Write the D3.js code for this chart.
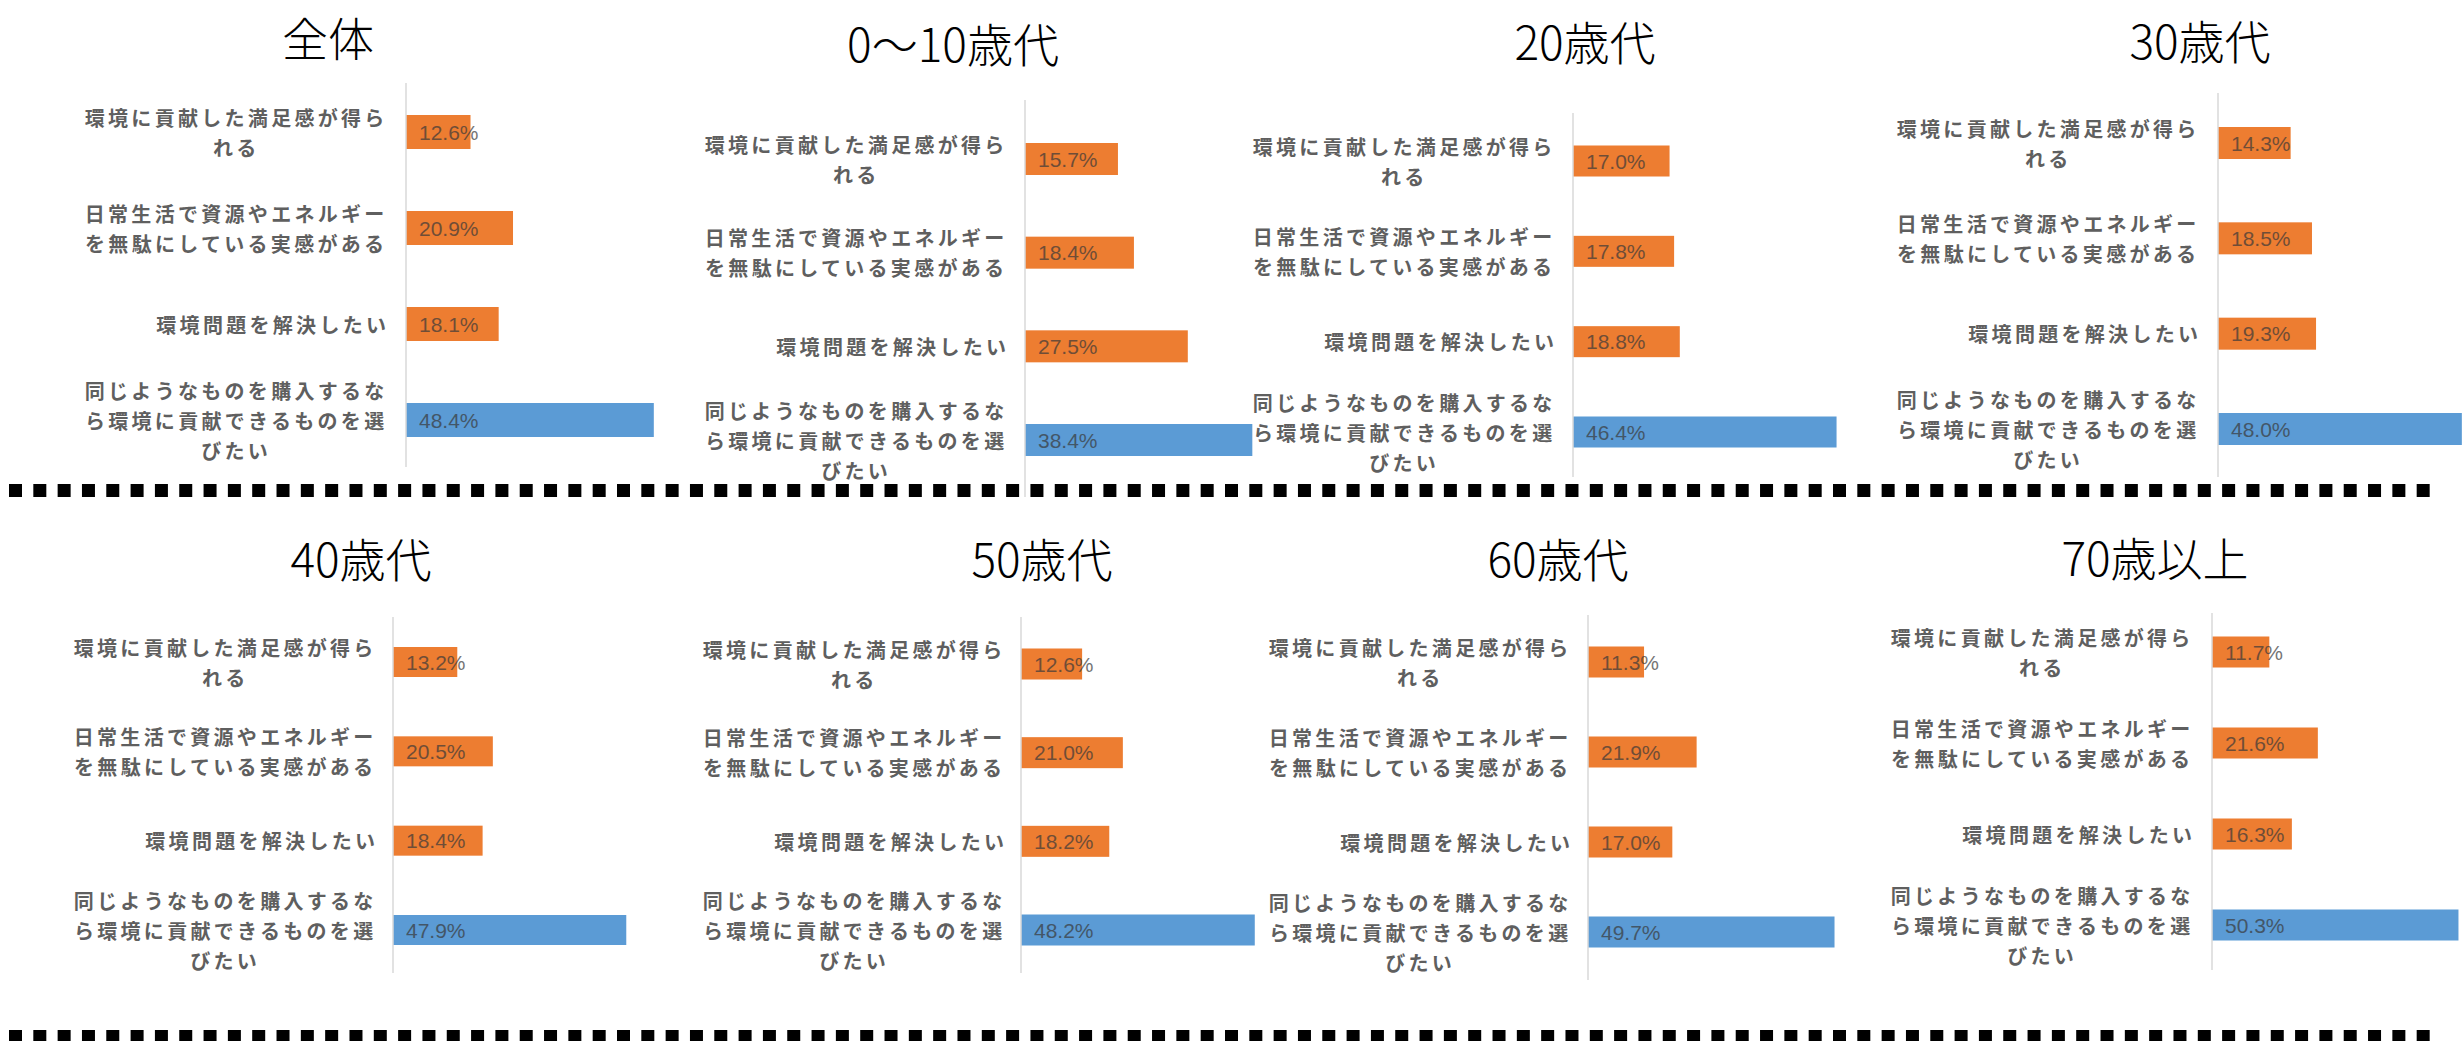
<!DOCTYPE html>
<html>
<head>
<meta charset="utf-8">
<script src="https://cdn.jsdelivr.net/npm/d3@7"></script>
<style>
  body { margin: 0; background: #fff; }
  svg { display: block; }
</style>
</head>
<body>
<script>
// data

var groups = ['全体', '0～10歳代', '20歳代', '30歳代', '40歳代', '50歳代', '60歳代', '70歳以上']

var categories = [
  ['環境に貢献した満足感が得ら', 'れる'],
  ['日常生活で資源やエネルギー', 'を無駄にしている実感がある'],
  ['環境問題を解決したい'],
  ['同じようなものを購入するな', 'ら環境に貢献できるものを選', 'びたい']
]

var satisfied = [12.6, 15.7, 17.0, 14.3, 13.2, 12.6, 11.3, 11.7]
var wasteful  = [20.9, 18.4, 17.8, 18.5, 20.5, 21.0, 21.9, 21.6]
var solve     = [18.1, 27.5, 18.8, 19.3, 18.4, 18.2, 17.0, 16.3]
var choose    = [48.4, 38.4, 46.4, 48.0, 47.9, 48.2, 49.7, 50.3]

var series = [satisfied, wasteful, solve, choose]
var barColors = ['#ED7D31', '#ED7D31', '#ED7D31', '#5B9BD5']

// where each small chart sits on the page
// tx/ty title centre, ax axis x, ay0/ay1 axis ends, c0/c3 first/last bar centre,
// bh bar height, ppp pixels per percent, lr right edge of the labels
var layout = [
  {tx: 328,  ty: 36,  ax: 406,  ay0: 83,  ay1: 467, c0: 132, c3: 420, bh: 34, ppp: 5.12, lr: 386},
  {tx: 953,  ty: 42,  ax: 1025, ay0: 100, ay1: 497, c0: 159, c3: 440, bh: 32, ppp: 5.92, lr: 1006},
  {tx: 1585, ty: 40,  ax: 1573, ay0: 113, ay1: 477, c0: 161, c3: 432, bh: 31, ppp: 5.68, lr: 1554},
  {tx: 2200, ty: 39,  ax: 2218, ay0: 93,  ay1: 477, c0: 143, c3: 429, bh: 32, ppp: 5.08, lr: 2198},
  {tx: 361,  ty: 557, ax: 393,  ay0: 617, ay1: 973, c0: 662, c3: 930, bh: 30, ppp: 4.87, lr: 375},
  {tx: 1042, ty: 557, ax: 1021, ay0: 617, ay1: 973, c0: 664, c3: 930, bh: 31, ppp: 4.85, lr: 1004},
  {tx: 1558, ty: 557, ax: 1588, ay0: 615, ay1: 980, c0: 662, c3: 932, bh: 31, ppp: 4.96, lr: 1570},
  {tx: 2155, ty: 556, ax: 2212, ay0: 613, ay1: 970, c0: 652, c3: 925, bh: 31, ppp: 4.9,  lr: 2192}
]

var width = 2463
var height = 1041

var labelSize = 20
var labelSpacing = 3.3
var lineGap = 30

var svg = d3.select('body').append('svg')
  .attr('width', width)
  .attr('height', height)

svg.append('rect')
  .attr('width', width)
  .attr('height', height)
  .attr('fill', '#fff')

groups.forEach(function(name, gi) {
  var L = layout[gi]
  var g = svg.append('g').attr('class', 'panel')

  var x = d3.scaleLinear()
    .domain([0, 100])
    .range([L.ax, L.ax + 100 * L.ppp])

  var y = d3.scalePoint()
    .domain(d3.range(categories.length))
    .range([L.c0, L.c3])

  // title
  g.append('text')
    .attr('x', L.tx)
    .attr('y', L.ty)
    .attr('text-anchor', 'middle')
    .attr('dominant-baseline', 'central')
    .style('font-family', '"Noto Sans CJK JP", sans-serif')
    .style('font-weight', 300)
    .style('font-size', '46px')
    .style('fill', '#000')
    .text(name)

  // bars
  g.selectAll('.bar')
    .data(series.map(function(s, i) { return {i: i, v: s[gi]} }))
    .enter().append('rect')
    .attr('class', 'bar')
    .attr('x', x(0))
    .attr('y', function(d) { return y(d.i) - L.bh / 2 })
    .attr('width', function(d) { return x(d.v) - x(0) })
    .attr('height', L.bh)
    .attr('fill', function(d) { return barColors[d.i] })

  // value labels
  g.selectAll('.val')
    .data(series.map(function(s, i) { return {i: i, v: s[gi]} }))
    .enter().append('text')
    .attr('class', 'val')
    .attr('x', x(0) + 13)
    .attr('y', function(d) { return y(d.i) })
    .attr('dominant-baseline', 'central')
    .style('font-family', '"Liberation Sans", Arial, sans-serif')
    .style('font-size', '21px')
    .style('fill', '#3a3a3a')
    .style('opacity', 0.7)
    .text(function(d) { return d.v.toFixed(1) + '%' })

  // axis line
  g.append('line')
    .attr('x1', L.ax).attr('x2', L.ax)
    .attr('y1', L.ay0).attr('y2', L.ay1)
    .style('stroke', '#d9d9d9')
    .style('stroke-width', 1.5)

  // category labels, centred as a block against the axis
  var blockW = 13 * (labelSize + labelSpacing)
  categories.forEach(function(lines, ci) {
    var t = g.append('text')
      .style('font-family', '"Noto Sans CJK JP", sans-serif')
      .style('font-weight', 700)
      .style('font-size', labelSize + 'px')
      .style('letter-spacing', labelSpacing + 'px')
      .style('fill', '#5f5f5f')
    lines.forEach(function(line, li) {
      var single = lines.length === 1
      t.append('tspan')
        .attr('x', single ? L.lr + labelSpacing : L.lr - blockW / 2 + labelSpacing / 2)
        .attr('y', y(ci) + (li - (lines.length - 1) / 2) * lineGap)
        .attr('text-anchor', single ? 'end' : 'middle')
        .attr('dominant-baseline', 'central')
        .text(line)
    })
  })
})

// dotted separators between the rows
var sepRows = [490.5, 1036.5]
svg.selectAll('.sep')
  .data(sepRows)
  .enter().append('line')
  .attr('class', 'sep')
  .attr('x1', 9)
  .attr('x2', 2430)
  .attr('y1', function(d) { return d })
  .attr('y2', function(d) { return d })
  .style('stroke', '#000')
  .style('stroke-width', 13)
  .style('stroke-dasharray', '13 11.32')
</script>
</body>
</html>
